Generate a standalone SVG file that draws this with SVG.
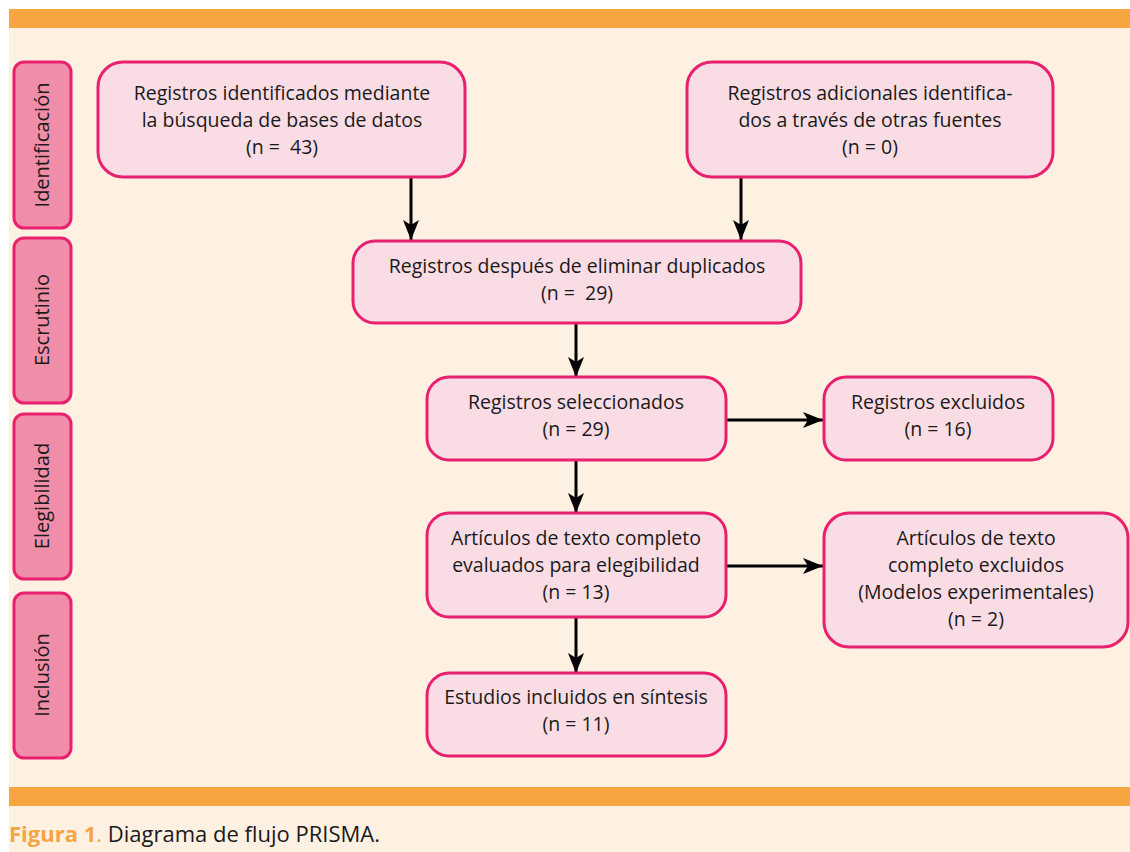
<svg xmlns="http://www.w3.org/2000/svg" width="1130" height="852" viewBox="0 0 1130 852">
<defs>
<style>
.bg{fill:#FEF1E2}
.bar{fill:#F7A540}
.box{fill:#FADCE4;stroke:#E8206F;stroke-width:3}
.side{fill:#F08DA9;stroke:#E8206F;stroke-width:3}
.t{font-family:"Open Sans","Liberation Sans",sans-serif;font-size:19.5px;fill:#1a1a1a;text-anchor:middle}
.s{font-family:"Open Sans","Liberation Sans",sans-serif;font-size:20px;fill:#1a1a1a;text-anchor:middle}
.cap{font-family:"Open Sans","Liberation Sans",sans-serif;font-size:22px;fill:#1a1a1a}
.conn{stroke:#000;stroke-width:3;fill:none;marker-end:url(#ah)}
</style>
<marker id="ah" markerUnits="userSpaceOnUse" markerWidth="20" markerHeight="16" viewBox="0 0 20 16" refX="20" refY="8" orient="auto">
<path d="M0,0 L20,8 L0,16 L5,8 Z" fill="#000"/>
</marker>
</defs>
<rect x="0" y="0" width="1130" height="852" fill="#fff"/>
<rect class="bg" x="9" y="9" width="1121" height="843"/>
<rect class="bar" x="9" y="9" width="1121" height="19"/>
<rect class="bar" x="9" y="787" width="1121" height="19"/>
<text class="cap" x="9" y="842"><tspan fill="#F7A540" font-weight="bold">Figura 1</tspan><tspan fill="#F7A540">.</tspan> Diagrama de flujo PRISMA.</text>

<g id="side-identificacion"><rect class="side" x="14" y="62" width="57" height="166" rx="10"/><text class="s" transform="translate(49,145) rotate(-90)">Identificación</text></g>
<g id="side-escrutinio"><rect class="side" x="14" y="238" width="57" height="165" rx="10"/><text class="s" transform="translate(49,320) rotate(-90)">Escrutinio</text></g>
<g id="side-elegibilidad"><rect class="side" x="14" y="414" width="57" height="165" rx="10"/><text class="s" transform="translate(49,496) rotate(-90)">Elegibilidad</text></g>
<g id="side-inclusion"><rect class="side" x="14" y="593" width="57" height="165" rx="10"/><text class="s" transform="translate(49,675) rotate(-90)">Inclusión</text></g>

<g id="connectors">
<line class="conn" x1="411" y1="178" x2="411" y2="240"/>
<line class="conn" x1="741" y1="178" x2="741" y2="240"/>
<line class="conn" x1="576" y1="324" x2="576" y2="377"/>
<line class="conn" x1="576" y1="461" x2="576" y2="513"/>
<line class="conn" x1="576" y1="618" x2="576" y2="673"/>
<line class="conn" x1="726" y1="420" x2="823" y2="420"/>
<line class="conn" x1="726" y1="566" x2="823" y2="566"/>
</g>

<g id="n1"><rect class="box" x="98" y="62" width="367" height="115" rx="25"/>
<text class="t" x="282" y="100">Registros identificados mediante</text>
<text class="t" x="282" y="127">la búsqueda de bases de datos</text>
<text class="t" x="282" y="154">(n = &#160;43)</text></g>

<g id="n2"><rect class="box" x="687" y="62" width="366" height="115" rx="25"/>
<text class="t" x="870" y="100">Registros adicionales identifica-</text>
<text class="t" x="870" y="127">dos a través de otras fuentes</text>
<text class="t" x="870" y="154">(n = 0)</text></g>

<g id="n3"><rect class="box" x="353" y="241" width="448" height="82" rx="22"/>
<text class="t" x="577" y="273">Registros después de eliminar duplicados</text>
<text class="t" x="577" y="300">(n = &#160;29)</text></g>

<g id="n4"><rect class="box" x="427" y="377" width="299" height="83" rx="22"/>
<text class="t" x="576" y="409">Registros seleccionados</text>
<text class="t" x="576" y="436">(n = 29)</text></g>

<g id="n5"><rect class="box" x="824" y="377" width="229" height="83" rx="22"/>
<text class="t" x="938" y="409">Registros excluidos</text>
<text class="t" x="938" y="436">(n = 16)</text></g>

<g id="n6"><rect class="box" x="427" y="513" width="299" height="104" rx="22"/>
<text class="t" x="576" y="545">Artículos de texto completo</text>
<text class="t" x="576" y="572">evaluados para elegibilidad</text>
<text class="t" x="576" y="599">(n = 13)</text></g>

<g id="n7"><rect class="box" x="824" y="513" width="304" height="134" rx="25"/>
<text class="t" x="976" y="545">Artículos de texto</text>
<text class="t" x="976" y="572">completo excluidos</text>
<text class="t" x="976" y="599">(Modelos experimentales)</text>
<text class="t" x="976" y="626">(n = 2)</text></g>

<g id="n8"><rect class="box" x="427" y="673" width="299" height="83" rx="22"/>
<text class="t" x="576" y="704">Estudios incluidos en síntesis</text>
<text class="t" x="576" y="731">(n = 11)</text></g>
</svg>
